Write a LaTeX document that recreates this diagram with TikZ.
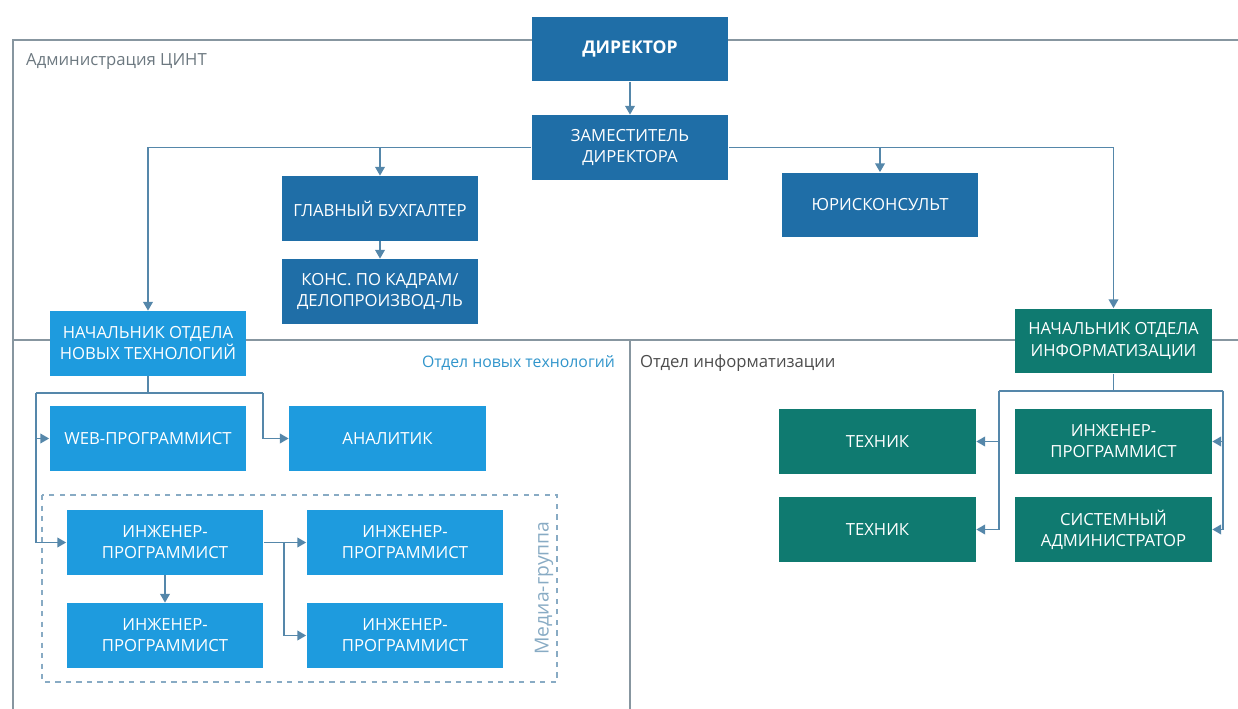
\documentclass[tikz,border=0pt]{standalone}
\usepackage{fontspec}
\setmainfont{Open Sans}
\usetikzlibrary{arrows.meta}
\definecolor{dblue}{RGB}{31,110,167}
\definecolor{lblue}{RGB}{30,155,222}
\definecolor{dteal}{RGB}{15,122,112}
\definecolor{linec}{RGB}{85,135,170}
\definecolor{framec}{RGB}{135,150,160}
\begin{document}
\begin{tikzpicture}[x=0.02cm, y=-0.02cm, >={Triangle[length=5pt,width=5.5pt]},
    box/.style={minimum width=3.94cm, minimum height=1.3cm, inner sep=0pt, align=center,
        text=white, font=\fontsize{9.5}{12}\selectfont},
    con/.style={draw=linec, line width=0.9pt}]
\useasboundingbox (0,0) rectangle (1238,709);
% frames
\draw[framec, line width=1pt](13,709)--(13,40)--(1238,40);
\draw[framec, line width=1pt](13,340)--(1238,340);
\draw[framec, line width=1pt](630,340)--(630,709);
\draw[linec!70, dashed, line width=0.9pt](42,495) rectangle (557,682);
\node (adm) at (20,62)[anchor=west, text=framec!80!black, font=\fontsize{9.5}{11}\selectfont]{Администрация ЦИНТ};
\node (ont) at (621,363)[anchor=east, text=lblue!80!gray, font=\fontsize{9}{11}\selectfont]{Отдел новых технологий};
\node (oin) at (634,363)[anchor=west, text=black!70, font=\fontsize{9.5}{11}\selectfont]{Отдел информатизации};
\node (med) at (544,588)[rotate=90, text=linec!70, font=\fontsize{11}{13}\selectfont]{Медиа-группа};

% administration
\node (dir) at (630,49)[box, fill=dblue, font=\fontsize{10}{12}\selectfont\bfseries]{ДИРЕКТОР};
\node (zam) at (630,147.5)[box, fill=dblue]{ЗАМЕСТИТЕЛЬ\\ДИРЕКТОРА};
\node (buh) at (380,208.5)[box, fill=dblue]{ГЛАВНЫЙ БУХГАЛТЕР};
\node (kons) at (380,291.5)[box, fill=dblue]{КОНС. ПО КАДРАМ/\\ДЕЛОПРОИЗВОД-ЛЬ};
\node (jur) at (880,205)[box, fill=dblue]{ЮРИСКОНСУЛЬТ};

% new technologies
\node (nt) at (148,343.5)[box, fill=lblue]{НАЧАЛЬНИК ОТДЕЛА\\НОВЫХ ТЕХНОЛОГИЙ};
\node (web) at (148,438.5)[box, fill=lblue]{WEB-ПРОГРАММИСТ};
\node (anal) at (387.5,438.5)[box, fill=lblue]{АНАЛИТИК};
\node (ing1) at (165,542.5)[box, fill=lblue]{ИНЖЕНЕР-\\ПРОГРАММИСТ};
\node (ing2) at (405,542.5)[box, fill=lblue]{ИНЖЕНЕР-\\ПРОГРАММИСТ};
\node (ing3) at (165,635.5)[box, fill=lblue]{ИНЖЕНЕР-\\ПРОГРАММИСТ};
\node (ing4) at (405,635.5)[box, fill=lblue]{ИНЖЕНЕР-\\ПРОГРАММИСТ};

% informatization
\node (ni) at (1113.5,341)[box, fill=dteal]{НАЧАЛЬНИК ОТДЕЛА\\ИНФОРМАТИЗАЦИИ};
\node (tech1) at (877.5,441.5)[box, fill=dteal]{ТЕХНИК};
\node (ii) at (1113.5,441.5)[box, fill=dteal]{ИНЖЕНЕР-\\ПРОГРАММИСТ};
\node (tech2) at (877.5,529.5)[box, fill=dteal]{ТЕХНИК};
\node (sys) at (1113.5,529.5)[box, fill=dteal]{СИСТЕМНЫЙ\\АДМИНИСТРАТОР};

\coordinate (ntl) at (36,393);
\coordinate (ntr) at (263,393);
\coordinate (mg) at (284,542.5);
\coordinate (nil) at (999,391);
\coordinate (nir) at (1223,391);

\draw[con,->](dir)--(zam);
\draw[con,->](zam.west)-|(nt.north);
\draw[con,->](zam.west)-|(buh.north);
\draw[con,->](zam.east)-|(ni.north);
\draw[con,->](zam.east)-|(jur.north);
\draw[con,->](buh)--(kons);

\draw[con](nt.south)|-(ntl);
\draw[con](nt.south)|-(ntr);
\foreach \n in {web,ing1}
    \draw[con,->](ntl)|-(\n.west);
\draw[con,->](ntr)|-(anal.west);
\draw[con,->](ing1)--(ing2);
\draw[con,->](mg)|-(ing4.west);
\draw[con,->](ing1)--(ing3);

\draw[con](ni.south)|-(nil);
\draw[con](ni.south)|-(nir);
\foreach \n in {tech1,tech2}
    \draw[con,->](nil)|-(\n.east);
\foreach \n in {ii,sys}
    \draw[con,->](nir)|-(\n.east);

\end{tikzpicture}
\end{document}
